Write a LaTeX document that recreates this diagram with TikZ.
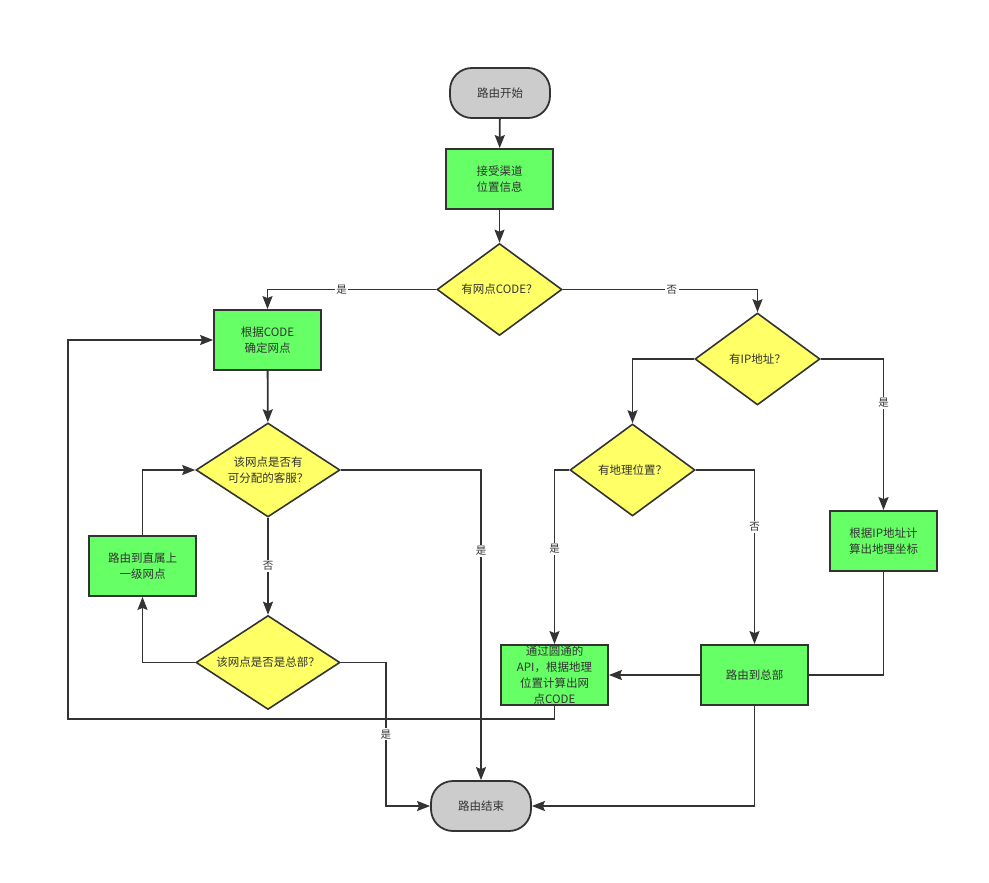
\documentclass[tikz,border=0pt]{standalone}
\usepackage{fontspec}
\setmainfont{Noto Sans CJK SC}
\usetikzlibrary{shapes.geometric,arrows.meta}
\definecolor{ink}{HTML}{333333}
\definecolor{termfill}{HTML}{CCCCCC}
\definecolor{procfill}{HTML}{66FF66}
\definecolor{decfill}{HTML}{FFFF66}
\begin{document}
\begin{tikzpicture}[x=1pt,y=-1pt,
  every node/.style={text=ink,font=\fontsize{11.5}{16}\selectfont},
  term/.style={draw=ink,line width=1.8pt,fill=termfill,rectangle,rounded corners=22pt,
    minimum width=100pt,minimum height=50pt,inner sep=0pt},
  proc/.style={draw=ink,line width=1.8pt,fill=procfill,rectangle,
    minimum width=107pt,minimum height=60pt,inner sep=0pt,align=center},
  dec/.style={draw=ink,line width=1.6pt,fill=decfill,diamond,inner sep=0pt,
    minimum width=125pt,minimum height=92pt},
  widedec/.style={dec,minimum width=144pt,minimum height=94pt},
  dectext/.style={label={[align=center,text=ink,font=\fontsize{11.5}{16}\selectfont]center:#1}},
  link/.style={draw=ink,line width=1.8pt},
  arr/.style={link,-{Stealth[length=13pt,width=10pt,inset=2pt]}},
  lbl/.style={fill=white,inner sep=1.5pt,font=\fontsize{10.5}{12}\selectfont}]
\useasboundingbox (0,0) rectangle (989,883);

% nodes
\node[term] (start) at (500,93) {路由开始};
\node[proc] (recv) at (499.5,179) {接受渠道\\位置信息};
\node[dec,dectext={有网点CODE？}] (hascode) at (499.5,289.5) {};
\node[proc] (bycode) at (267.5,340) {根据CODE\\确定网点};
\node[widedec,dectext={该网点是否有\\可分配的客服？}] (agent) at (268,470) {};
\node[widedec,dectext={该网点是否是总部？}] (ishq) at (268,662.5) {};
\node[proc] (parent) at (142.5,566) {路由到直属上\\一级网点};
\node[term] (finish) at (481,806) {路由结束};
\node[dec,dectext={有IP地址？}] (hasip) at (757.5,359) {};
\node[dec,dectext={有地理位置？}] (hasgeo) at (632.5,470) {};
\node[proc] (ipgeo) at (883.5,541) {根据IP地址计\\算出地理坐标};
\node[proc] (tohq) at (754.5,675) {路由到总部};
\node[proc] (api) at (554.5,675) {通过圆通的\\API，根据地理\\位置计算出网\\点CODE};

\coordinate (loop) at (68,719);

% connectors
\draw[arr] (start) -- (recv);
\draw[arr] (recv) -- (hascode);
\draw[arr] (hascode.west) -| node[lbl,pos=0.28]{是} (bycode.north);
\draw[arr] (hascode.east) -| node[lbl,pos=0.28]{否} (hasip.north);
\draw[arr] (bycode) -- (agent);
\draw[arr] (agent) -- node[lbl]{否} (ishq);
\draw[arr] (ishq.west) -| (parent.south);
\draw[arr] (parent.north) |- (agent.west);
\draw[arr] (agent.east) -| node[lbl,pos=0.63]{是} (finish.north);
\draw[arr] (ishq.east) -- ++(45,0) |- node[lbl,pos=0.25]{是} (finish.west);
\draw[arr] (hasip.west) -| (hasgeo.north);
\draw[arr] (hasip.east) -| node[lbl,pos=0.645]{是} (ipgeo.north);
\draw[arr] (hasgeo.west) -| node[lbl,pos=0.726]{是} (api.north);
\draw[arr] (hasgeo.east) -| node[lbl,pos=0.663]{否} (tohq.north);
\draw[link] (ipgeo.south) |- (tohq.east);
\draw[arr] (tohq.west) -- (api.east);
\draw[arr] (tohq.south) |- (finish.east);
\draw[arr] (api.south) |- (loop) |- (bycode.west);
\end{tikzpicture}
\end{document}
